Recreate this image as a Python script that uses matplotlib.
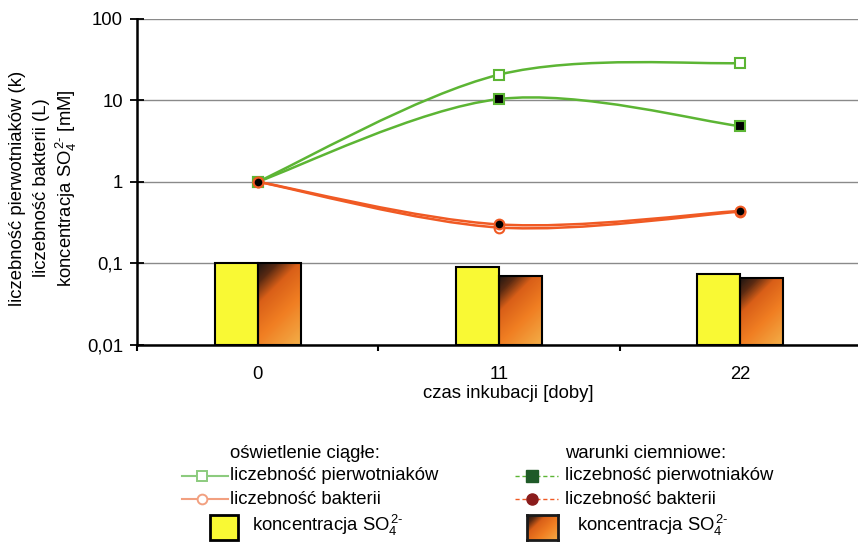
import numpy as np
import matplotlib.pyplot as plt
from matplotlib.path import Path
from matplotlib.patches import PathPatch, Rectangle
from matplotlib.lines import Line2D
from matplotlib.colors import LinearSegmentedColormap

plt.rcParams['font.family'] = ['Liberation Sans', 'DejaVu Sans']
plt.rcParams['mathtext.fontset'] = 'custom'
plt.rcParams['mathtext.rm'] = 'Liberation Sans'
plt.rcParams['mathtext.it'] = 'Liberation Sans'
plt.rcParams['mathtext.bf'] = 'Liberation Sans:bold'

# czas inkubacji (doby)
dni = ['0', '11', '22']

# liczebnosc pierwotniakow i bakterii (wzgledna)
pierwotniaki_swiatlo = [1, 20.5, 28.5]
pierwotniaki_ciemno = [1, 10.3, 4.8]
bakterie_swiatlo = [1, 0.275, 0.43]
bakterie_ciemno = [1, 0.30, 0.44]

# koncentracja SO4 2- [mM]
so4_swiatlo = [0.1, 0.091, 0.075]
so4_ciemno = [0.1, 0.071, 0.066]

ZIELONY = '#5cb534'
CZERWONY = '#f05a24'
ZOLTY = '#f9f934'
W, H = 858, 542
FS = 13.3
SO4 = r'SO$_4^{\,2\text{-}}$'


def px(x, y):
    # piksele -> wspolrzedne figury
    return x / W, 1 - y / H


def gladka_sciezka(xs, ys):
    # krzywa jak "wygladzona linia" w Excelu (Bezier w ukladzie x, log y)
    p = np.column_stack([xs, np.log10(ys)]).astype(float)
    pts = np.vstack([p[0], p, p[-1]])
    verts = [p[0]]
    for i in range(1, len(pts) - 2):
        p0, p1, p2, p3 = pts[i - 1], pts[i], pts[i + 1], pts[i + 2]
        verts += [p1 + (p2 - p0) / 6, p2 - (p3 - p1) / 6, p2]
    verts = np.array(verts)
    verts[:, 1] = 10 ** verts[:, 1]
    codes = [Path.MOVETO] + [Path.CURVE4] * (len(verts) - 1)
    return Path(verts, codes)


cmap_so4 = LinearSegmentedColormap.from_list(
    'so4', [(0, '#1e1612'), (0.15, '#5a2a12'), (0.32, '#d95f18'),
            (0.6, '#f07e22'), (1, '#f3b04a')])

fig = plt.figure(figsize=(W / 100, H / 100), dpi=100)
x0, y0 = px(137, 345)
x1, y1 = px(861, 18.5)
ax = fig.add_axes([x0, y0, x1 - x0, y1 - y0])
ax.set_yscale('log')

x = np.arange(len(dni))
szer = 0.178

ax.bar(x - szer / 2, np.array(so4_swiatlo) - 0.01, bottom=0.01, width=szer,
       color=ZOLTY, edgecolor='black', linewidth=1.5, zorder=3)
bary_ciemno = ax.bar(x + szer / 2, np.array(so4_ciemno) - 0.01, bottom=0.01,
                     width=szer, facecolor='none', edgecolor='black',
                     linewidth=1.5, zorder=3)

# linie wygladzone
for dane, kol in [(pierwotniaki_swiatlo, ZIELONY), (pierwotniaki_ciemno, ZIELONY),
                  (bakterie_swiatlo, CZERWONY), (bakterie_ciemno, CZERWONY)]:
    ax.add_patch(PathPatch(gladka_sciezka(x, dane), facecolor='none',
                           edgecolor=kol, linewidth=1.8, zorder=4))

ax.plot(x, pierwotniaki_swiatlo, ls='none', marker='s', ms=7, mfc='white',
        mec=ZIELONY, mew=1.5, zorder=5)
ax.plot(x, pierwotniaki_ciemno, ls='none', marker='s', ms=7, mfc='black',
        mec=ZIELONY, mew=1.5, zorder=5)
ax.plot(x, bakterie_swiatlo, ls='none', marker='o', ms=7, mfc='white',
        mec=CZERWONY, mew=1.5, zorder=6)
ax.plot(x, bakterie_ciemno, ls='none', marker='o', ms=7, mfc='black',
        mec=CZERWONY, mew=1.5, zorder=6)

ax.set_xlim(-0.5, 2.5)
ax.set_ylim(0.01, 100)

# gradient w slupkach "warunki ciemniowe"
inv = ax.transAxes.inverted()
for b in bary_ciemno:
    bx0, by0 = b.get_x(), b.get_y()
    bx1, by1 = bx0 + b.get_width(), by0 + b.get_height()
    (qx0, qy0), (qx1, qy1) = ax.transData.transform([(bx0, by0), (bx1, by1)])
    w = int(round(qx1 - qx0))
    h = int(round(qy1 - qy0))
    xx, yy = np.meshgrid(np.arange(w), np.arange(h))
    s = (xx + yy) / (w + h)
    (ax0, ay0), (ax1, ay1) = inv.transform([(qx0, qy0), (qx1, qy1)])
    im = ax.imshow(s, cmap=cmap_so4, vmin=0, vmax=1, extent=(ax0, ax1, ay0, ay1),
                   transform=ax.transAxes, origin='upper', aspect='auto',
                   interpolation='bilinear', zorder=2)
    im.set_clip_path(b)

ax.set_xlim(-0.5, 2.5)
ax.set_ylim(0.01, 100)

ax.set_yticks([0.01, 0.1, 1, 10, 100])
ax.set_yticklabels(['0,01', '0,1', '1', '10', '100'])
ax.minorticks_off()
ax.yaxis.grid(True, color='#8a8a8a', linewidth=1.0)
ax.set_axisbelow(True)
ax.tick_params(axis='y', direction='inout', length=10, width=1.3,
               labelsize=FS, pad=5)

ax.set_xticks(x)
ax.set_xticklabels(dni)
ax.set_xticks([-0.5, 0.5, 1.5, 2.5], minor=True)
ax.tick_params(axis='x', which='major', length=0, labelsize=FS, pad=15)
ax.tick_params(axis='x', which='minor', direction='out', length=4, width=1.5)

for s in ['top', 'right']:
    ax.spines[s].set_visible(False)
for s in ['left', 'bottom']:
    ax.spines[s].set_linewidth(1.8)

fig.text(*px(508, 393), 'czas inkubacji [doby]', ha='center', va='center', fontsize=FS)

# opis osi y w trzech wierszach
opis_y = ['liczebność pierwotniaków (k)', 'liczebność bakterii (L)',
          'koncentracja ' + SO4 + ' [mM]']
for xp, t in zip([18, 42, 66], opis_y):
    fig.text(*px(xp, 188), t, rotation=90, ha='center', va='center', fontsize=FS)

# legenda
fig.text(*px(230, 453), 'oświetlenie ciągłe:', ha='left', va='center', fontsize=FS)
fig.text(*px(565, 453), 'warunki ciemniowe:', ha='left', va='center', fontsize=FS)
for yp, t in [(476, 'liczebność pierwotniaków'), (499, 'liczebność bakterii')]:
    fig.text(*px(230, yp), t, ha='left', va='center', fontsize=FS)
    fig.text(*px(565, yp), t, ha='left', va='center', fontsize=FS)

fT = fig.transFigure
for yp, kol, mk in [(476, '#8ccb7e', 's'), (499, '#f2a080', 'o')]:
    fy = px(0, yp)[1]
    fig.add_artist(Line2D([182 / W, 228 / W], [fy, fy], color=kol, lw=1.5, transform=fT))
    fig.add_artist(Line2D([202 / W], [fy], marker=mk, ms=7, mfc='white', mec=kol,
                          mew=1.4, transform=fT))
for yp, kol, mkol, mk in [(476, ZIELONY, '#1f5a28', 's'), (499, CZERWONY, '#8a1c1c', 'o')]:
    fy = px(0, yp)[1]
    fig.add_artist(Line2D([515 / W, 558 / W], [fy, fy], color=kol, lw=1.0, ls='--',
                          dashes=(3, 2), transform=fT))
    fig.add_artist(Line2D([532 / W], [fy], marker=mk, ms=8, mfc=mkol, mec=mkol,
                          transform=fT))

fig.add_artist(Rectangle(px(210, 540), 28 / W, 25 / H, facecolor=ZOLTY,
                         edgecolor='black', linewidth=2, transform=fT))
fig.text(*px(252, 525), 'koncentracja ' + SO4, ha='left', va='center',
         fontsize=FS)

kw = fig.add_axes([527 / W, 1 - 540 / H, 31 / W, 25 / H])
gx, gy = np.meshgrid(np.arange(31), np.arange(25))
kw.imshow((gx + gy) / 56, cmap=cmap_so4, vmin=0, vmax=1, aspect='auto',
          interpolation='bilinear')
kw.set_xticks([])
kw.set_yticks([])
for s in kw.spines.values():
    s.set_linewidth(2)
    s.set_color('#1a1a1a')
fig.text(*px(577, 525), 'koncentracja ' + SO4, ha='left', va='center',
         fontsize=FS)

fig.savefig('out.png', dpi=100)
